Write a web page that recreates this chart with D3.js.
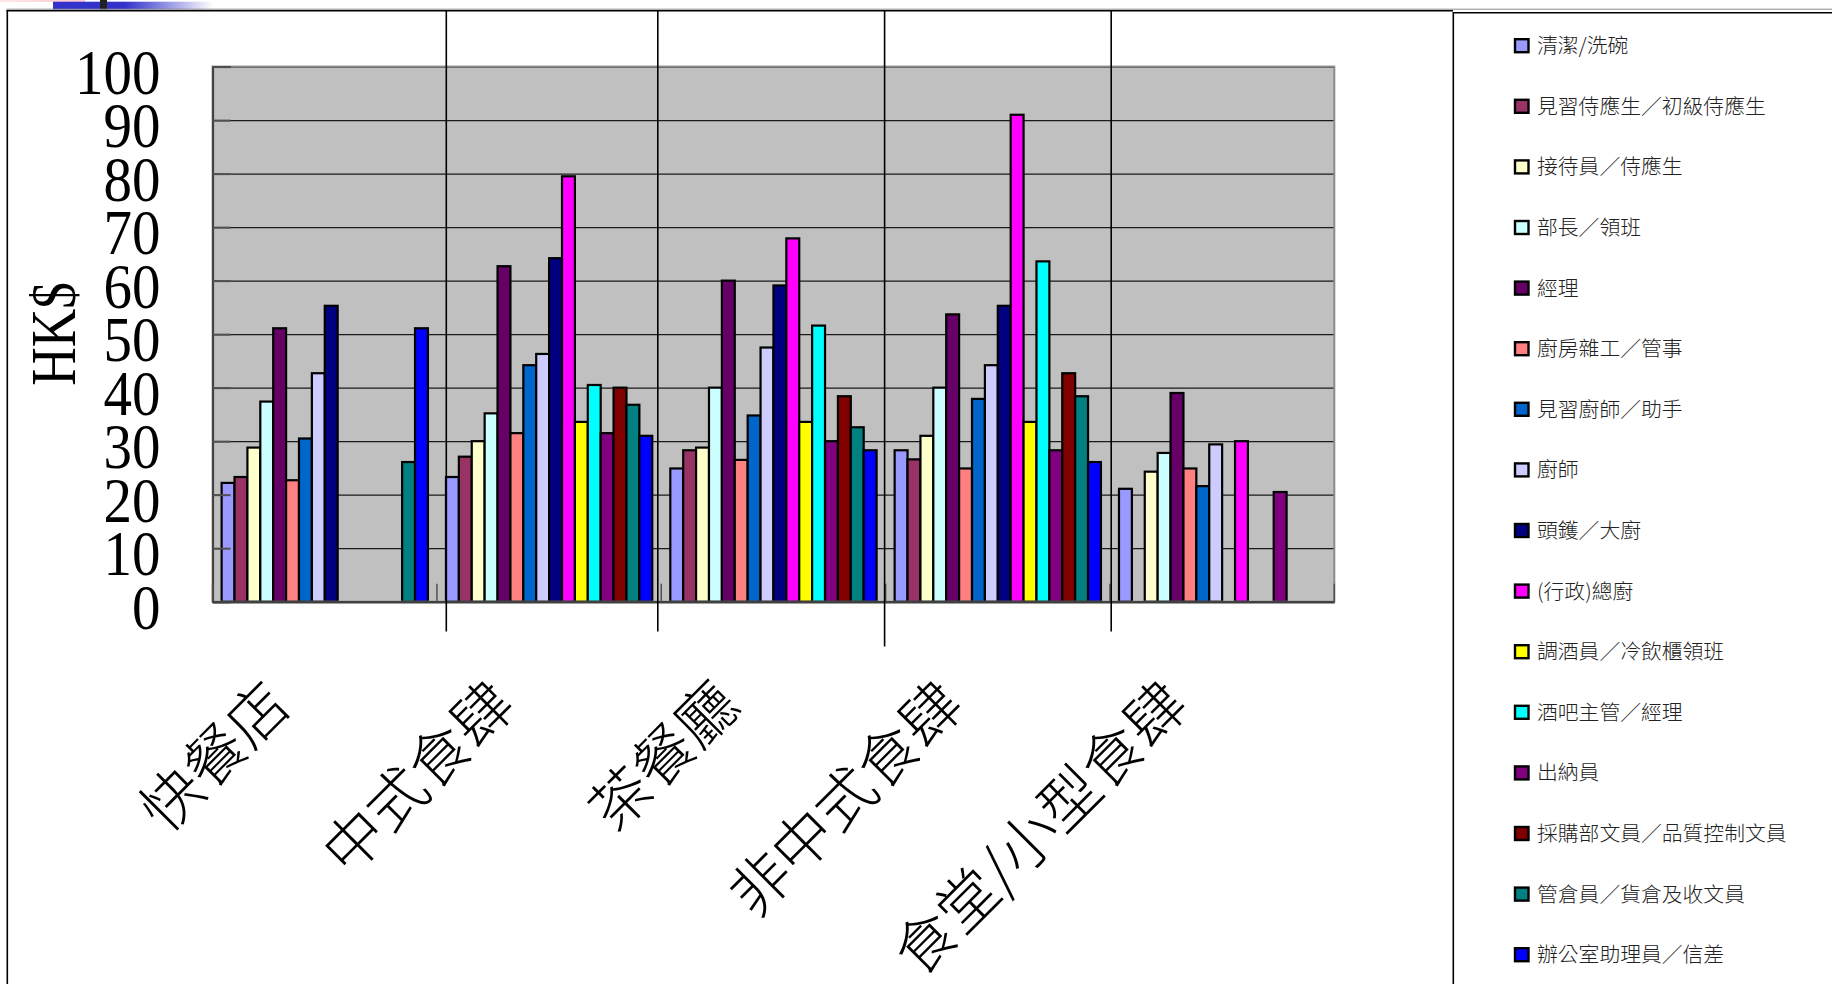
<!DOCTYPE html>
<html>
<head>
<meta charset="utf-8">
<script src="https://cdn.jsdelivr.net/npm/d3@7"></script>
<style>
  html, body { margin: 0; padding: 0; background: #ffffff; overflow: hidden; }
  svg { display: block; }
</style>
</head>
<body>
<svg id="chart" width="1832" height="984"></svg>
<script>
// Hourly wages (HK$) by job title and type of restaurant
const categories = ["快餐店", "中式食肆", "茶餐廳", "非中式食肆", "食堂/小型食肆"];

const seriesNames = [
  "清潔/洗碗",
  "見習侍應生／初級侍應生",
  "接待員／侍應生",
  "部長／領班",
  "經理",
  "廚房雜工／管事",
  "見習廚師／助手",
  "廚師",
  "頭鑊／大廚",
  "(行政)總廚",
  "調酒員／冷飲櫃領班",
  "酒吧主管／經理",
  "出納員",
  "採購部文員／品質控制文員",
  "管倉員／貨倉及收文員",
  "辦公室助理員／信差"
];

const seriesColors = [
  "#9999FF", "#993366", "#FFFFCC", "#CCFFFF", "#660066", "#FF8080", "#0066CC", "#CCCCFF",
  "#000080", "#FF00FF", "#FFFF00", "#00FFFF", "#800080", "#800000", "#008080", "#0000FF"
];

// one value per restaurant type; null = no figure
const cleaner        = [22.2, 23.3, 24.9, 28.3, 21.1];
const juniorWaiter   = [23.3, 27.1, 28.3, 26.6, null];
const waiter         = [28.8, 30.0, 28.8, 31.0, 24.3];
const captain        = [37.4, 35.2, 40.0, 40.0, 27.8];
const manager        = [51.1, 62.7, 60.0, 53.7, 39.0];
const kitchenHelper  = [22.7, 31.5, 26.5, 24.9, 24.9];
const juniorCook     = [30.5, 44.2, 34.8, 37.9, 21.6];
const cook           = [42.7, 46.3, 47.5, 44.2, 29.4];
const headCook       = [55.3, 64.2, 59.1, 55.3, null];
const executiveChef  = [null, 79.5, 67.9, 91.0, 30.0];
const bartender      = [null, 33.6, 33.6, 33.6, null];
const barManager     = [null, 40.5, 51.6, 63.6, null];
const cashier        = [null, 31.5, 30.0, 28.3, 20.5];
const purchasingClerk= [null, 40.0, 38.4, 42.7, null];
const storekeeper    = [26.1, 36.8, 32.6, 38.4, null];
const officeAssistant= [51.1, 31.0, 28.3, 26.1, null];

const seriesValues = [
  cleaner, juniorWaiter, waiter, captain, manager, kitchenHelper, juniorCook, cook,
  headCook, executiveChef, bartender, barManager, cashier, purchasingClerk, storekeeper, officeAssistant
];

const yTickValues = [0, 10, 20, 30, 40, 50, 60, 70, 80, 90, 100];
const yTitle = "HK$";

const svg = d3.select("#chart");

// ---- slide header ornament ----
const defs = svg.append("defs");
const grad = defs.append("linearGradient").attr("id", "hdrFade").attr("x1", "0").attr("x2", "1");
grad.append("stop").attr("offset", "0").attr("stop-color", "#3333CC");
grad.append("stop").attr("offset", "0.45").attr("stop-color", "#3333CC");
grad.append("stop").attr("offset", "1").attr("stop-color", "#ffffff");
const pgrad = defs.append("linearGradient").attr("id", "pinkFade").attr("x1", "0").attr("x2", "1");
pgrad.append("stop").attr("offset", "0").attr("stop-color", "#FFE8E8");
pgrad.append("stop").attr("offset", "1").attr("stop-color", "#FFC8D0");
svg.append("rect").attr("x", 0).attr("y", 0).attr("width", 85).attr("height", 2).attr("fill", "url(#pinkFade)");
svg.append("rect").attr("x", 53).attr("y", 1.7).attr("width", 160).attr("height", 7.8).attr("fill", "url(#hdrFade)");
svg.append("rect").attr("x", 100).attr("y", 0).attr("width", 7).attr("height", 9.5).attr("fill", "#222");

// ---- plot geometry ----
const plot = { left: 212.6, right: 1334.3, top: 66.6, bottom: 601.7 };

const y = d3.scaleLinear().domain([0, 100]).range([plot.bottom, plot.top]);
const x0 = d3.scaleBand().domain(categories).range([plot.left, plot.right]).paddingInner(0).paddingOuter(0);
const x1 = d3.scaleBand().domain(seriesNames).range([0, x0.bandwidth()]).paddingInner(0).paddingOuter(0.7);

// background
svg.append("rect")
  .attr("x", plot.left).attr("y", plot.top)
  .attr("width", plot.right - plot.left).attr("height", plot.bottom - plot.top)
  .attr("fill", "#C0C0C0");

// gridlines
const grid = svg.append("g").attr("transform", `translate(${plot.left},0)`)
  .call(d3.axisLeft(y).tickValues(yTickValues).tickSize(-(plot.right - plot.left)).tickFormat(""));
grid.select(".domain").remove();
grid.selectAll("line").attr("stroke", "#1a1a1a").attr("stroke-width", 1.2);

// bars
const barG = svg.append("g");
seriesNames.forEach((name, i) => {
  const rows = categories.map((c, j) => ({ c, v: seriesValues[i][j] })).filter(d => d.v !== null);
  barG.append("g").selectAll("rect")
    .data(rows)
    .join("rect")
    .attr("x", d => x0(d.c) + x1(name))
    .attr("y", d => y(d.v))
    .attr("width", x1.bandwidth())
    .attr("height", d => y(0) - y(d.v))
    .attr("fill", seriesColors[i])
    .attr("stroke", "#000")
    .attr("stroke-width", 2.2);
});

// plot frame
svg.append("rect")
  .attr("x", plot.left).attr("y", plot.top)
  .attr("width", plot.right - plot.left).attr("height", plot.bottom - plot.top)
  .attr("fill", "none").attr("stroke", "#8a8a8a").attr("stroke-width", 2);

// value axis
const yAxis = svg.append("g").attr("transform", `translate(${plot.left},0)`)
  .call(d3.axisRight(y).tickValues(yTickValues).tickSize(18).tickFormat(""));
yAxis.select(".domain").attr("stroke", "#404040").attr("stroke-width", 2);
yAxis.selectAll("line").attr("stroke", "#505050").attr("stroke-width", 2);

const yLabels = svg.append("g").attr("transform", `translate(${plot.left},0)`)
  .call(d3.axisLeft(y).tickValues(yTickValues).tickSize(0).tickFormat(d3.format("d")));
yLabels.select(".domain").remove();
yLabels.selectAll("text")
  .attr("x", null).attr("dy", null)
  .attr("transform", "translate(-52,26.5) scale(1,1.11)")
  .attr("text-anchor", "end")
  .attr("fill", "#000")
  .style("font-family", "'Liberation Serif', 'Times New Roman', serif")
  .style("font-size", "57px");

// value axis title
svg.append("text")
  .attr("transform", "translate(75,334) rotate(-90) scale(0.92,1.09)")
  .attr("text-anchor", "middle")
  .style("font-family", "'Liberation Serif', 'Times New Roman', serif")
  .style("font-size", "58px")
  .attr("fill", "#000")
  .text(yTitle);

// category axis
const xAxis = svg.append("g").attr("transform", `translate(0,${plot.bottom})`)
  .call(d3.axisBottom(x0).tickSize(0));
xAxis.select(".domain").attr("stroke", "#404040").attr("stroke-width", 2.5);
xAxis.selectAll("text")
  .attr("y", null).attr("dy", null)
  .attr("transform", `translate(-31,${708 - plot.bottom}) rotate(-45)`)
  .attr("text-anchor", "end")
  .attr("fill", "#000")
  .style("font-family", "'Noto Sans CJK TC', sans-serif")
  .style("font-weight", "300")
  .style("font-size", "60px");

// category separators on the axis
const boundaries = categories.map(c => x0(c)).concat([x0.range()[1]]);
svg.append("g").selectAll("line")
  .data(boundaries)
  .join("line")
  .attr("x1", d => d).attr("x2", d => d)
  .attr("y1", plot.bottom).attr("y2", plot.bottom - 18)
  .attr("stroke", "#505050").attr("stroke-width", 1.5);

// ---- slide table frame ----
const frame = svg.append("g").attr("stroke", "#000").attr("fill", "none");
frame.append("line").attr("x1", 6.5).attr("x2", 1453).attr("y1", 10.8).attr("y2", 10.8).attr("stroke-width", 1.6);
frame.append("line").attr("x1", 6.5).attr("x2", 1832).attr("y1", 9.2).attr("y2", 9.2).attr("stroke", "#8a8a8a").attr("stroke-width", 1);
frame.append("line").attr("x1", 7.3).attr("x2", 7.3).attr("y1", 10).attr("y2", 984).attr("stroke-width", 1.6);
const tableCols = [
  { x: 446.3, end: 631.5 },
  { x: 657.8, end: 631.5 },
  { x: 884.6, end: 646.5 },
  { x: 1111.2, end: 631.5 }
];
frame.selectAll("line.col")
  .data(tableCols)
  .join("line")
  .attr("class", "col")
  .attr("x1", d => d.x).attr("x2", d => d.x)
  .attr("y1", 10.8).attr("y2", d => d.end)
  .attr("stroke-width", 1.6);

// legend box
frame.append("line").attr("x1", 1453).attr("x2", 1832).attr("y1", 12.7).attr("y2", 12.7).attr("stroke-width", 1.6);
frame.append("line").attr("x1", 1453.3).attr("x2", 1453.3).attr("y1", 12).attr("y2", 984).attr("stroke-width", 1.6);

// ---- legend ----
const legend = svg.append("g");
const legendItems = legend.selectAll("g")
  .data(seriesNames)
  .join("g")
  .attr("transform", (d, i) => `translate(1515,${45.7 + i * 60.6})`);
legendItems.append("rect")
  .attr("x", 0).attr("y", -6.5)
  .attr("width", 13.5).attr("height", 13)
  .attr("fill", (d, i) => seriesColors[i])
  .attr("stroke", "#000").attr("stroke-width", 2.4);
legendItems.append("text")
  .attr("x", 22).attr("y", 0)
  .attr("dy", "0.36em")
  .attr("fill", "#222")
  .style("font-family", "'Noto Sans CJK TC', sans-serif")
  .style("font-weight", "300")
  .style("font-size", "20.8px")
  .text(d => d);
</script>
</body>
</html>
